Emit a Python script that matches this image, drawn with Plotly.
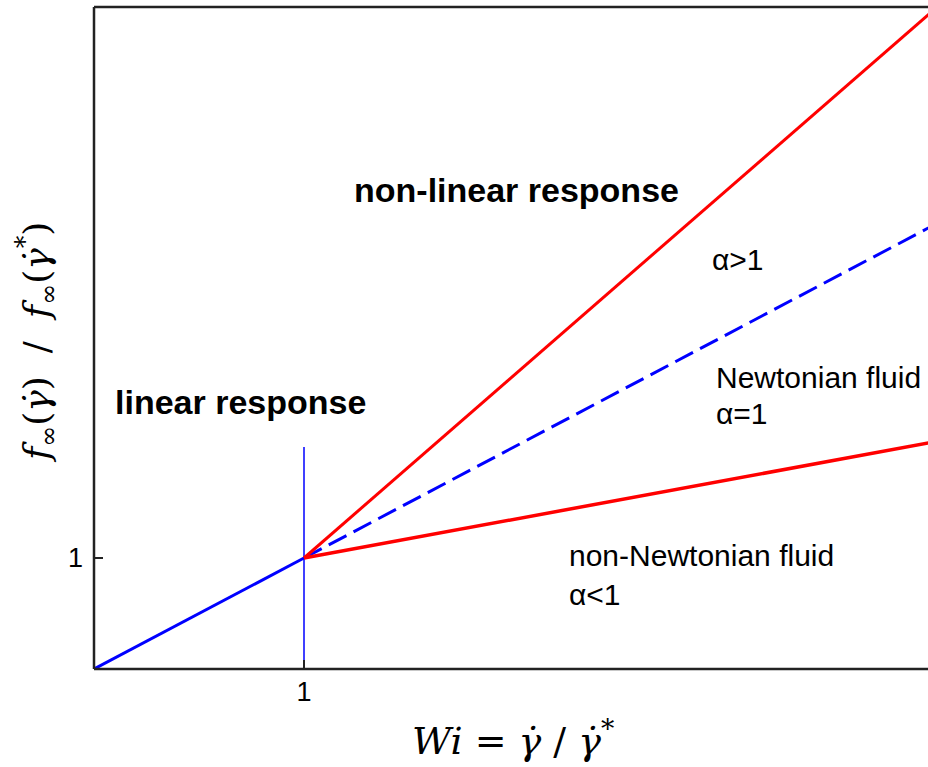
import plotly.graph_objects as go

# Shear-rate scaling in log-log coordinates (Wi = gamma_dot / gamma_dot*)
wi_linear = [0.1, 1.0]
f_linear = [0.1, 1.0]

wi_nonlinear = [1.0, 1000.0]
f_alpha_gt1 = [1.0, 87000.0]     # alpha > 1
f_newtonian = [1.0, 1000.0]      # alpha = 1
f_alpha_lt1 = [1.0, 11.1]        # alpha < 1

wi_onset = [1.0, 1.0]
f_onset = [0.1, 10.0]

tick_vals = [1]
tick_text = ["1"]

W, H = 928, 767
L, R, T, B = 94, 928, 7, 669


def px(x):
    return (x - L) / (R - L)


def py(y):
    return (B - y) / (B - T)


fig = go.Figure()
fig.add_trace(go.Scatter(x=wi_onset, y=f_onset, mode="lines",
                         line=dict(color="#0000ff", width=1.5), hoverinfo="skip"))
fig.add_trace(go.Scatter(x=wi_linear, y=f_linear, mode="lines",
                         line=dict(color="#0000ff", width=3), hoverinfo="skip"))
fig.add_trace(go.Scatter(x=wi_nonlinear, y=f_newtonian, mode="lines",
                         line=dict(color="#0000ff", width=3, dash="20px,8px"), hoverinfo="skip"))
fig.add_trace(go.Scatter(x=wi_nonlinear, y=f_alpha_gt1, mode="lines",
                         line=dict(color="#ff0000", width=3), hoverinfo="skip"))
fig.add_trace(go.Scatter(x=wi_nonlinear, y=f_alpha_lt1, mode="lines",
                         line=dict(color="#ff0000", width=3.5), hoverinfo="skip"))

sans = "Liberation Sans, Arial, sans-serif"
serif = "DejaVu Serif, Liberation Serif, serif"

annotations = [
    dict(text="<b>non-linear response</b>", x=px(516), y=py(190),
         font=dict(family=sans, size=34, color="black")),
    dict(text="<b>linear response</b>", x=px(240), y=py(402),
         font=dict(family=sans, size=34, color="black")),
    dict(text="α>1", x=px(710), y=py(259), xanchor="left",
         font=dict(family=sans, size=30, color="black")),
    dict(text="Newtonian fluid", x=px(714), y=py(377), xanchor="left",
         font=dict(family=sans, size=30, color="black")),
    dict(text="α=1", x=px(714), y=py(414), xanchor="left",
         font=dict(family=sans, size=30, color="black")),
    dict(text="non-Newtonian fluid", x=px(567), y=py(555), xanchor="left",
         font=dict(family=sans, size=30, color="black")),
    dict(text="α<1", x=px(567), y=py(594), xanchor="left",
         font=dict(family=sans, size=30, color="black")),
    dict(text="<i>Wi</i> = <i>γ̇</i> / <i>γ̇</i><sup>*</sup>", x=px(513), y=py(738),
         font=dict(family=serif, size=38, color="black")),
    dict(text="<i>f</i><sub>∞</sub>(<i>γ̇</i>)  /  <i>f</i><sub>∞</sub>(<i>γ̇</i><sup>*</sup>)",
         x=px(37), y=py(343), textangle=-90,
         font=dict(family=serif, size=36, color="black")),
]
for a in annotations:
    a.update(xref="paper", yref="paper", showarrow=False, yanchor="middle")
    a.setdefault("xanchor", "center")

axis_common = dict(type="log", showgrid=False, zeroline=False,
                   showline=False, ticks="inside", ticklen=9, tickwidth=1.5,
                   tickcolor="#222", tickvals=tick_vals, ticktext=tick_text,
                   tickfont=dict(family=sans, size=27, color="black"))

fig.update_layout(
    width=W, height=H,
    margin=dict(l=L, r=W - R, t=T, b=H - B),
    paper_bgcolor="white", plot_bgcolor="white",
    showlegend=False,
    xaxis=dict(range=[-1, -1 + (R - L) / 210], ticklabelstandoff=4, **axis_common),
    yaxis=dict(range=[-1, -1 + (B - T) / 111], ticklabelstandoff=10, **axis_common),
    annotations=annotations,
    shapes=[
        # box frame on left, bottom and top (right side runs past the page edge)
        dict(type="line", xref="paper", yref="paper", x0=0, x1=0, y0=0, y1=1,
             line=dict(color="#222", width=2.5)),
        dict(type="line", xref="paper", yref="paper", x0=0, x1=1, y0=0, y1=0,
             line=dict(color="#222", width=2.5)),
        dict(type="line", xref="paper", yref="paper", x0=0, x1=1, y0=1, y1=1,
             line=dict(color="#222", width=2.5)),
    ],
)

fig.write_html("out.html")
